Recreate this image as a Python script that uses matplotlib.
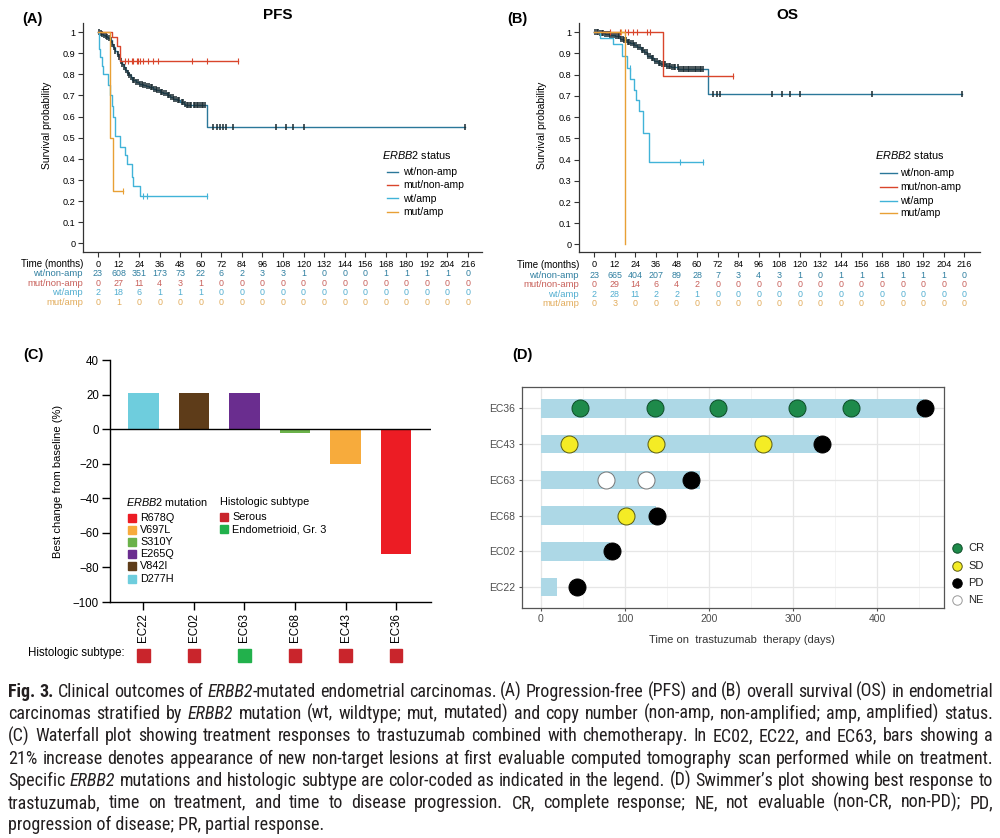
import re
import numpy as np
import matplotlib
matplotlib.use('Agg')
import matplotlib.pyplot as plt
from matplotlib import font_manager
from matplotlib.patches import Rectangle
from matplotlib.lines import Line2D
from matplotlib.transforms import blended_transform_factory

# ---------------- DATA ----------------
months = [0, 12, 24, 36, 48, 60, 72, 84, 96, 108, 120, 132, 144, 156, 168, 180, 192, 204, 216]
groups = ['wt/non-amp', 'mut/non-amp', 'wt/amp', 'mut/amp']

# PFS step curves (months, survival)
pfs_wtna_t = [0, 1, 2, 3, 4, 5, 6, 7, 8, 9, 10, 11, 12, 13, 14, 15, 16, 17, 18, 19, 20, 22, 24, 26, 28, 30,
              32, 34, 36, 38, 40, 42, 44, 46, 48, 50, 51, 63.5]
pfs_wtna_s = [1.0, 0.995, 0.99, 0.985, 0.98, 0.975, 0.97, 0.96, 0.945, 0.93, 0.91, 0.895, 0.88, 0.865, 0.85,
              0.835, 0.82, 0.805, 0.795, 0.785, 0.775, 0.765, 0.755, 0.75, 0.745, 0.74, 0.73, 0.725, 0.715,
              0.71, 0.70, 0.695, 0.685, 0.68, 0.67, 0.66, 0.655, 0.55]
pfs_wtna_end = 214
pfs_wtna_cens = [0.8, 1.7, 2.6, 3.4, 4.5, 5.3, 6.2, 7.4, 8.3, 9.1, 10.2, 11.4, 12.3, 13.2, 14.1, 15.3, 16.2,
                 17.4, 18.3, 19.1, 20.4, 21.3, 22.2, 23.5, 24.4, 25.6, 26.5, 27.3, 28.6, 29.5, 30.7, 31.6,
                 32.4, 33.7, 34.6, 35.5, 36.8, 37.6, 38.5, 39.7, 40.6, 41.4, 42.7, 43.6, 44.5, 45.8, 46.6,
                 47.5, 48.8, 49.6, 50.5, 51.8, 52.7, 53.6, 54.5, 55.8, 56.7, 57.6, 58.5, 59.7, 60.6, 61.5,
                 62.4, 67, 69.5, 71, 73, 75, 79, 104, 110, 114, 120, 214]
pfs_mutna_t = [0, 8.0, 10.9, 13.0]
pfs_mutna_s = [1.0, 0.975, 0.935, 0.862]
pfs_mutna_end = 81.5
pfs_mutna_cens = [15.8, 17.7, 19.7, 20.6, 22.6, 23.5, 24.5, 26.4, 29.4, 32.3, 35.2, 54.7, 63.4, 81.5]
pfs_wtamp_t = [0, 0.6, 1.2, 2.1, 3.1, 6.0, 7.0, 8.0, 8.9, 9.9, 12.8, 15.8, 16.7, 19.7, 20.6, 24.5]
pfs_wtamp_s = [1.0, 0.92, 0.88, 0.84, 0.80, 0.75, 0.70, 0.65, 0.60, 0.51, 0.455, 0.42, 0.375, 0.315, 0.27, 0.225]
pfs_wtamp_end = 63.4
pfs_wtamp_cens = [26.4, 28.4, 63.4]
pfs_mutamp_t = [0, 7.0, 8.5]
pfs_mutamp_s = [1.0, 0.5, 0.25]
pfs_mutamp_end = 14.4
pfs_mutamp_cens = [14.4]

# OS step curves
os_wtna_t = [0, 3, 6, 9, 12, 15, 17, 19, 21, 23, 25, 27, 29, 31, 33, 35, 37, 39, 42, 45, 49, 66.5]
os_wtna_s = [1.0, 0.995, 0.99, 0.985, 0.98, 0.97, 0.962, 0.955, 0.948, 0.94, 0.93, 0.918, 0.905, 0.89,
             0.878, 0.866, 0.856, 0.848, 0.84, 0.835, 0.825, 0.711]
os_wtna_end = 214.5
os_wtna_cens = [0.7, 1.6, 2.4, 3.5, 4.3, 5.2, 6.4, 7.3, 8.5, 9.4, 10.6, 11.5, 12.4, 13.6, 14.5, 15.4, 16.6,
                17.5, 18.3, 19.6, 20.4, 21.5, 22.4, 23.3, 24.6, 25.5, 26.4, 27.6, 28.5, 29.4, 30.6, 31.5,
                32.4, 33.6, 34.5, 35.4, 36.6, 37.5, 38.4, 39.6, 40.5, 41.4, 42.6, 43.5, 44.4, 45.6, 46.5,
                47.4, 48.6, 49.5, 50.4, 51.6, 52.5, 53.4, 54.6, 55.5, 56.4, 57.6, 58.5, 59.4, 60.6, 61.5,
                62.4, 63.5, 69.5, 71.5, 73.4, 103.6, 109.4, 114.2, 120, 162, 214.5]
os_mutna_t = [0, 40.3]
os_mutna_s = [1.0, 0.796]
os_mutna_end = 81.2
os_mutna_cens = [9.2, 15, 17.9, 19.9, 22.8, 24.7, 30.6, 32.5, 81.2]
os_wtamp_t = [0, 3.3, 11, 16, 19, 21, 23, 24.5, 26, 28.6, 31.9]
os_wtamp_s = [1.0, 0.975, 0.945, 0.89, 0.83, 0.78, 0.73, 0.68, 0.627, 0.525, 0.39]
os_wtamp_end = 63.6
os_wtamp_cens = [20.8, 50, 63.6]
os_mutamp_t = [0, 17.9]
os_mutamp_s = [1.0, 0.0]
os_mutamp_end = 17.9
os_mutamp_cens = [15.5]

# numbers at risk
pfs_risk = [
    [23, 608, 351, 173, 73, 22, 6, 2, 3, 3, 1, 0, 0, 0, 1, 1, 1, 1, 0],
    [0, 27, 11, 4, 3, 1, 0, 0, 0, 0, 0, 0, 0, 0, 0, 0, 0, 0, 0],
    [2, 18, 6, 1, 1, 1, 0, 0, 0, 0, 0, 0, 0, 0, 0, 0, 0, 0, 0],
    [0, 1, 0, 0, 0, 0, 0, 0, 0, 0, 0, 0, 0, 0, 0, 0, 0, 0, 0],
]
os_risk = [
    [23, 665, 404, 207, 89, 28, 7, 3, 4, 3, 1, 0, 1, 1, 1, 1, 1, 1, 0],
    [0, 29, 14, 6, 4, 2, 0, 0, 0, 0, 0, 0, 0, 0, 0, 0, 0, 0, 0],
    [2, 28, 11, 2, 2, 1, 0, 0, 0, 0, 0, 0, 0, 0, 0, 0, 0, 0, 0],
    [0, 3, 0, 0, 0, 0, 0, 0, 0, 0, 0, 0, 0, 0, 0, 0, 0, 0, 0],
]

# waterfall
wf_patients = ['EC22', 'EC02', 'EC63', 'EC68', 'EC43', 'EC36']
wf_values = [21, 21, 21, -2, -20, -72]
wf_mutation = ['D277H', 'V842I', 'E265Q', 'S310Y', 'V697L', 'R678Q']
wf_histology = ['Serous', 'Serous', 'Endometrioid, Gr. 3', 'Serous', 'Serous', 'Serous']
mutations = ['R678Q', 'V697L', 'S310Y', 'E265Q', 'V842I', 'D277H']
histologies = ['Serous', 'Endometrioid, Gr. 3']

# swimmer
sw_patients = ['EC22', 'EC02', 'EC68', 'EC63', 'EC43', 'EC36']
sw_duration = [20, 82, 137, 189, 331, 456]
ev_patient = ['EC36'] * 6 + ['EC43'] * 4 + ['EC63'] * 3 + ['EC68'] * 2 + ['EC02', 'EC22']
ev_day = [47, 136, 211, 305, 369, 457, 34, 137, 265, 335, 78, 125, 179, 102, 138, 85, 43]
ev_resp = ['CR', 'CR', 'CR', 'CR', 'CR', 'PD', 'SD', 'SD', 'SD', 'PD', 'NE', 'NE', 'PD', 'SD', 'PD', 'PD', 'PD']
responses = ['CR', 'SD', 'PD', 'NE']

caption_lines = [
    "**Fig. 3.** Clinical outcomes of *ERBB2*-mutated endometrial carcinomas. (A) Progression-free (PFS) and (B) overall survival (OS) in endometrial",
    "carcinomas stratified by *ERBB2* mutation (wt, wildtype; mut, mutated) and copy number (non-amp, non-amplified; amp, amplified) status.",
    "(C) Waterfall plot showing treatment responses to trastuzumab combined with chemotherapy. In EC02, EC22, and EC63, bars showing a",
    "21% increase denotes appearance of new non-target lesions at first evaluable computed tomography scan performed while on treatment.",
    "Specific *ERBB2* mutations and histologic subtype are color-coded as indicated in the legend. (D) Swimmer\u2019s plot showing best response to",
    "trastuzumab, time on treatment, and time to disease progression. CR, complete response; NE, not evaluable (non-CR, non-PD); PD,",
    "progression of disease; PR, partial response.",
]

# ---------------- STYLE ----------------
ttf = font_manager.fontManager.ttflist
names = {f.name for f in ttf}
BASE = 'Liberation Sans' if 'Liberation Sans' in names else 'DejaVu Sans'
NARROW = None
for cand in ['Liberation Sans Narrow', 'Roboto Condensed', 'Open Sans Condensed', 'Noto Sans Condensed',
             'Arial Narrow', 'Nimbus Sans Narrow', 'DejaVu Sans Condensed']:
    if cand in names:
        NARROW = cand
        break
if NARROW is None:
    for n in sorted(names):
        if ('Narrow' in n or 'Condensed' in n) and 'Mono' not in n and 'Serif' not in n and 'CJK' not in n:
            NARROW = n
            break
if NARROW is None:
    NARROW = BASE
plt.rcParams['font.family'] = [BASE, 'DejaVu Sans']
plt.rcParams['mathtext.fontset'] = 'custom'
plt.rcParams['mathtext.rm'] = BASE
plt.rcParams['mathtext.it'] = BASE + ':italic'

grp_line = ['#2a7799', '#d9452b', '#41b3d8', '#e8a035']
grp_text = ['#2f7fa0', '#c8605a', '#52aed0', '#e2ac5c']
mut_colors = {'R678Q': '#ec1c24', 'V697L': '#f7ab3c', 'S310Y': '#6bb24a', 'E265Q': '#6a2d8f',
              'V842I': '#5e3c19', 'D277H': '#6ecddd'}
hist_colors = {'Serous': '#c9252c', 'Endometrioid, Gr. 3': '#22b14c'}
resp_face = {'CR': '#1e8a4a', 'SD': '#f4ec25', 'PD': '#000000', 'NE': '#ffffff'}
resp_edge = {'CR': '#0d4d28', 'SD': '#5a5a10', 'PD': '#000000', 'NE': '#777777'}

W, H = 1000, 838
fig = plt.figure(figsize=(W / 100, H / 100), dpi=100)
fig.patch.set_facecolor('white')


def fx(x):
    return x / W


def fy(y):
    return 1 - y / H


def add_ax(l, t, r, b):
    return fig.add_axes([l / W, 1 - b / H, (r - l) / W, (b - t) / H])


def ftext(x, y, s, **kw):
    return fig.text(fx(x), fy(y), s, **kw)


def km(ax, t, s, end, cens, color, ccolor=None, ms=4.5, mew=0.8, z=2):
    tt = list(t) + [end]
    ss = list(s) + [s[-1]]
    ax.step(tt, ss, where='post', color=color, lw=1.0, zorder=z)
    ct = np.array(cens, dtype=float)
    idx = np.searchsorted(np.array(t, dtype=float), ct, side='right') - 1
    cy = np.array(s)[idx]
    ax.plot(ct, cy, ls='none', marker='|', ms=ms, mew=mew, color=ccolor or color, zorder=z)


def km_panel(l, r, top, bottom, x0px, y0px, yscale, curves, risk, label_x, tick_y, rows_y,
             legend, title, title_x, letter_x, ylab_x):
    ax = add_ax(l, top, r, bottom)
    mpp = 1.713
    ax.set_xlim((l - x0px) / mpp, (r - x0px) / mpp)
    ax.set_ylim((y0px - bottom) / yscale, (y0px - top) / yscale)
    for sp in ['top', 'right']:
        ax.spines[sp].set_visible(False)
    for sp in ['left', 'bottom']:
        ax.spines[sp].set_color('#333333')
        ax.spines[sp].set_linewidth(0.9)
    ax.set_yticks([i / 10 for i in range(11)])
    ax.set_yticklabels(['0'] + ['0.%d' % i for i in range(1, 10)] + ['1'])
    ax.set_xticks(months)
    ax.set_xticklabels([str(m) for m in months])
    ax.tick_params(axis='both', length=3.5, width=0.8, color='#333333', labelsize=6.6, pad=2)
    ax.tick_params(axis='x', pad=2.5)
    for i, (t, s, end, cens) in enumerate(curves):
        km(ax, t, s, end, cens, grp_line[i], ccolor='#1a2a30' if i == 0 else None,
           ms=5 if i == 0 else 4.5, mew=1.1 if i == 0 else 0.8, z=2 + i)
    # risk table
    tr = blended_transform_factory(ax.transData, fig.transFigure)
    ftext(label_x, tick_y, 'Time (months)', ha='right', va='center', fontsize=7)
    for i, vals in enumerate(risk):
        ftext(label_x, rows_y[i], groups[i], ha='right', va='center', fontsize=6.8, color=grp_text[i])
        for m, v in zip(months, vals):
            ax.text(m, fy(rows_y[i]), str(v), transform=tr, ha='center', va='center',
                    fontsize=6.4, color=grp_text[i], clip_on=False)
    # legend
    lx0, lx1, ltx, lty, ly = legend
    ftext(lx0 - 5, lty, r'$\mathit{ERBB2}$ status', ha='left', va='center', fontsize=7.8)
    for i in range(4):
        fig.add_artist(Line2D([fx(lx0), fx(lx1)], [fy(ly[i]), fy(ly[i])], color=grp_line[i], lw=1.0))
        ftext(ltx, ly[i], groups[i], ha='left', va='center', fontsize=7.5)
    ftext(title_x, 15, title, ha='center', va='center', fontsize=11, fontweight='bold')
    ftext(letter_x, 19, '(%s)' % ('A' if title == 'PFS' else 'B'), ha='left', va='center',
          fontsize=10.5, fontweight='bold')
    ftext(ylab_x, 125, 'Survival probability', rotation=90, ha='center', va='center', fontsize=7.5)
    return ax


pfs_curves = [(pfs_wtna_t, pfs_wtna_s, pfs_wtna_end, pfs_wtna_cens),
              (pfs_mutna_t, pfs_mutna_s, pfs_mutna_end, pfs_mutna_cens),
              (pfs_wtamp_t, pfs_wtamp_s, pfs_wtamp_end, pfs_wtamp_cens),
              (pfs_mutamp_t, pfs_mutamp_s, pfs_mutamp_end, pfs_mutamp_cens)]
os_curves = [(os_wtna_t, os_wtna_s, os_wtna_end, os_wtna_cens),
             (os_mutna_t, os_mutna_s, os_mutna_end, os_mutna_cens),
             (os_wtamp_t, os_wtamp_s, os_wtamp_end, os_wtamp_cens),
             (os_mutamp_t, os_mutamp_s, os_mutamp_end, os_mutamp_cens)]

km_panel(83, 482, 23, 252, 98.0, 243.5, 211.5, pfs_curves, pfs_risk, 83, 264, [273, 283, 292.5, 302.5],
         (387, 398, 403, 155, [172, 185, 198.5, 212]), 'PFS', 278, 22, 47)
km_panel(579, 980, 23, 252, 594.3, 244.5, 212.3, os_curves, os_risk, 579, 264.5, [275, 284.5, 294, 303.5],
         (880, 897, 900, 155, [173, 187, 200.5, 213.5]), 'OS', 787, 507, 542)

# ---------------- PANEL C ----------------
axC = add_ax(110, 360, 431, 602)
xs = np.arange(len(wf_patients))
axC.bar(xs, wf_values, width=0.6, color=[mut_colors[m] for m in wf_mutation], zorder=2)
axC.axhline(0, color='black', lw=1.0, zorder=3)
axC.set_xlim(-0.66, 5.69)
axC.set_ylim(-100, 40)
for sp in ['top', 'right']:
    axC.spines[sp].set_visible(False)
axC.spines['left'].set_linewidth(1.0)
axC.spines['bottom'].set_linewidth(1.0)
yt = [40, 20, 0, -20, -40, -60, -80, -100]
axC.set_yticks(yt)
axC.set_yticklabels([str(v).replace('-', '\u2212') for v in yt])
axC.set_xticks(xs)
axC.set_xticklabels(wf_patients, rotation=90)
axC.tick_params(axis='both', length=6, width=1.0, labelsize=8.3, pad=2)
ftext(58, 481, 'Best change from baseline (%)', rotation=90, ha='center', va='center', fontsize=8)
ftext(23, 355, '(C)', ha='left', va='center', fontsize=10.5, fontweight='bold')
trC = blended_transform_factory(axC.transData, fig.transFigure)
ftext(28, 653, 'Histologic subtype:', ha='left', va='center', fontsize=8.3)
for i, h in enumerate(wf_histology):
    axC.add_patch(Rectangle((xs[i] - 0.125, fy(661.5)), 0.25, 13 / H, transform=trC,
                            color=hist_colors[h], clip_on=False))
ftext(125.7, 502, r'$\mathit{ERBB2}$ mutation', ha='left', va='center', fontsize=7.8)
for i, m in enumerate(mutations):
    y = 518 + 12.1 * i
    fig.add_artist(Rectangle((fx(127.7), fy(y + 4)), 8 / W, 8 / H, transform=fig.transFigure,
                             color=mut_colors[m]))
    ftext(140, y, m, ha='left', va='center', fontsize=7.8)
ftext(220, 502, 'Histologic subtype', ha='left', va='center', fontsize=7.8)
for i, h in enumerate(histologies):
    y = 516.7 + 12.6 * i
    fig.add_artist(Rectangle((fx(219.5), fy(y + 4)), 8 / W, 8 / H, transform=fig.transFigure,
                             color=hist_colors[h]))
    ftext(232, y, h, ha='left', va='center', fontsize=7.8)

# ---------------- PANEL D ----------------
axD = add_ax(521.7, 387.3, 944, 607.7)
ypos = {p: i + 1 for i, p in enumerate(sw_patients)}
axD.barh([ypos[p] for p in sw_patients], sw_duration, height=0.52, left=0, color='#add8e6', zorder=2)
for r in responses:
    px = [d for d, rr in zip(ev_day, ev_resp) if rr == r]
    py = [ypos[p] for p, rr in zip(ev_patient, ev_resp) if rr == r]
    axD.scatter(px, py, s=150, facecolor=resp_face[r], edgecolor=resp_edge[r], linewidth=0.7, zorder=3)
axD.set_xlim(-22.5, 479.7)
axD.set_ylim(0.42, 6.59)
axD.set_xticks([0, 100, 200, 300, 400])
axD.set_xticks([50, 150, 250, 350, 450], minor=True)
axD.set_yticks([ypos[p] for p in sw_patients])
axD.set_yticklabels(sw_patients)
axD.grid(True, which='major', color='#e6e6e6', lw=0.9, zorder=0)
axD.grid(True, which='minor', axis='x', color='#f2f2f2', lw=0.6, zorder=0)
axD.set_axisbelow(True)
for sp in axD.spines.values():
    sp.set_color('#555555')
    sp.set_linewidth(0.9)
axD.tick_params(axis='both', which='major', length=2.5, color='#555555', labelsize=7.5,
                labelcolor='#4d4d4d', pad=2)
axD.tick_params(axis='x', which='minor', length=0)
ftext(741.7, 639.5, 'Time on  trastuzumab  therapy (days)', ha='center', va='center', fontsize=8,
      color='#333333')
ftext(512, 355, '(D)', ha='left', va='center', fontsize=10.5, fontweight='bold')
for i, r in enumerate(responses):
    y = 548.3 + 17.2 * i
    fig.add_artist(Line2D([fx(956.7)], [fy(y)], marker='o', ms=6.8, mfc=resp_face[r],
                          mec=resp_edge[r] if r != 'NE' else '#999999', mew=0.7, ls='none'))
    ftext(968, y, r, ha='left', va='center', fontsize=8, color='#222222')

# ---------------- CAPTION (justified) ----------------
renderer = fig.canvas.get_renderer()
CAPC = '#231f20'
x_left, x_right = 8, 993


def seg_parse(line):
    parts = re.split(r'(\*\*.+?\*\*|\*.+?\*)', line)
    segs = []
    for p in parts:
        if not p:
            continue
        if p.startswith('**'):
            segs.append((p[2:-2], 'bold'))
        elif p.startswith('*'):
            segs.append((p[1:-1], 'italic'))
        else:
            segs.append((p, 'normal'))
    words = [[]]
    for txt, st in segs:
        pieces = txt.split(' ')
        for i, pc in enumerate(pieces):
            if i > 0:
                words.append([])
            if pc:
                words[-1].append((pc, st))
    return [w for w in words if w]


def mk(txt, st, size):
    return fig.text(0, 0, txt, fontsize=size, family=[NARROW, 'DejaVu Sans'],
                    fontweight='bold' if st == 'bold' else 'normal',
                    style='italic' if st == 'italic' else 'normal', color=CAPC, va='baseline')


def measure(size):
    t1 = mk('a a', 'normal', size)
    t2 = mk('aa', 'normal', size)
    sw = t1.get_window_extent(renderer).width - t2.get_window_extent(renderer).width
    t1.remove()
    t2.remove()
    layout = []
    for line in caption_lines[:-1]:
        items = []
        for w in seg_parse(line):
            ws = []
            for txt, st in w:
                t = mk(txt, st, size)
                ws.append((t, t.get_window_extent(renderer).width))
            items.append(ws)
        layout.append(items)
    return sw, layout


size0 = 13.0
sw, layout = measure(size0)
need = 0
for items in layout:
    tot = sum(wd for ws in items for _, wd in ws)
    need = max(need, tot + 0.85 * sw * (len(items) - 1))
size = size0 if need <= (x_right - x_left) else size0 * (x_right - x_left) / need
if size != size0:
    for items in layout:
        for ws in items:
            for t, _ in ws:
                t.remove()
    sw, layout = measure(size)

for li, items in enumerate(layout):
    total = sum(wd for ws in items for _, wd in ws)
    gap = (x_right - x_left - total) / (len(items) - 1)
    x = x_left
    ybase = 697 + li * 22.2
    for ws in items:
        for t, wd in ws:
            t.set_position((fx(x), fy(ybase)))
            x += wd
        x += gap

# last (unjustified) line as a single text
last = mk(caption_lines[-1], 'normal', size)
last.set_position((fx(x_left), fy(697 + (len(caption_lines) - 1) * 22.2)))

fig.savefig('out.png', dpi=100, facecolor='white')
